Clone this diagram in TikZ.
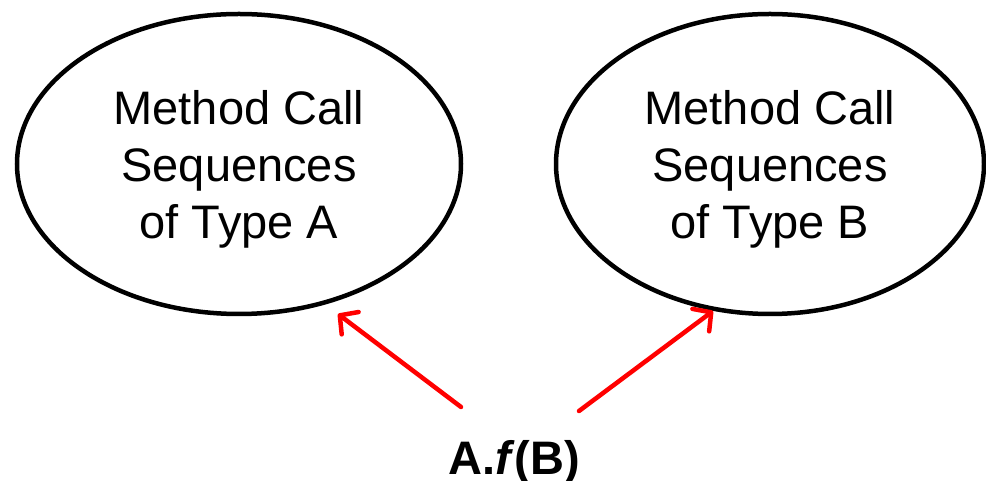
\documentclass[tikz,border=0pt]{standalone}
\usepackage{fontspec}
\setmainfont{Liberation Sans}
\usetikzlibrary{shapes.geometric,arrows.meta}
\tikzset{
  seqset/.style={ellipse, draw=black, line width=4.5pt, inner sep=0pt,
    minimum height=300pt, align=center, text depth=0pt,
    font=\fontsize{47}{57}\selectfont},
  callarrow/.style={draw=red, line width=4.5pt, line cap=round,
    -{Straight Barb[length=13pt, width=28pt, line cap=round, line join=round]}},
  calllabel/.style={font=\fontsize{47}{56}\selectfont\bfseries, inner sep=0pt}
}
\begin{document}
\begin{tikzpicture}[x=1pt, y=1pt]
\useasboundingbox (0,0) rectangle (986,481);
\node[seqset, minimum width=444pt] (seqA) at (239,317) {Method Call\\Sequences\\of Type A};
\node[seqset, minimum width=428pt] (seqB) at (770,317) {Method Call\\Sequences\\of Type B};
\node[calllabel, anchor=base] (call) at (514,6) {A.\textit{f}(B)};
\coordinate (startA) at (461,74);
\coordinate (endA) at (338,167);
\coordinate (startB) at (579,70);
\coordinate (endB) at (713,170);
\draw[callarrow] (startA) -- (endA);
\draw[callarrow] (startB) -- (endB);
\end{tikzpicture}
\end{document}
